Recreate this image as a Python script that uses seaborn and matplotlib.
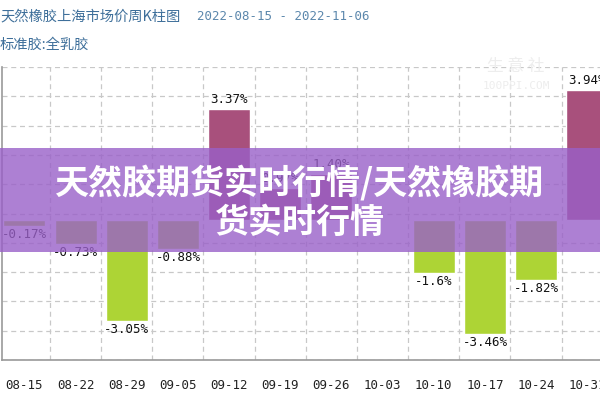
import matplotlib
matplotlib.use("Agg")
import matplotlib.pyplot as plt
import seaborn as sns
import numpy as np
import pandas as pd
from matplotlib.patches import Rectangle

weeks = ["08-15", "08-22", "08-29", "09-05", "09-12", "09-19",
         "09-26", "10-03", "10-10", "10-17", "10-24", "10-31"]
changes = [-0.17, -0.73, -3.05, -0.88, 3.37, 0.97,
           1.40, np.nan, -1.6, -3.46, -1.82, 3.94]
labels = ["-0.17%", "-0.73%", "-3.05%", "-0.88%", "3.37%", "0.97%",
          "1.40%", "", "-1.6%", "-3.46%", "-1.82%", "3.94%"]

header_title = "天然橡胶上海市场价周K柱图"
header_dates = "2022-08-15 - 2022-11-06"
header_sub = "标准胶:全乳胶"
overlay_line1 = "天然胶期货实时行情/天然橡胶期"
overlay_line2 = "货实时行情"

sns.set_theme(style="white")
plt.rcParams['font.family'] = ['Noto Sans CJK SC', 'DejaVu Sans']

up_color = "#A8507C"
down_color = "#ADD435"
colors = [up_color if (v == v and v > 0) else down_color for v in changes]

df = pd.DataFrame({"week": weeks, "change": changes})

fig = plt.figure(figsize=(6, 4), dpi=100)
ax = fig.add_axes([0.004, 0.10, 0.996, 0.7325])

sns.barplot(data=df, x="week", y="change", hue="week", palette=colors,
            legend=False, width=0.82, saturation=1, ax=ax, zorder=2)

ymin, ymax = -4.24, 4.64
ax.set_ylim(ymin, ymax)
ax.set_xlim(-0.43, 11.25)
ax.set_yticks(np.linspace(ymin, ymax, 11))
ax.set_yticklabels([])
ax.set_xticks(range(len(weeks)))
ax.set_xticklabels(weeks, family="DejaVu Sans Mono", fontsize=9, color="#222222")
ax.set_xticks(np.arange(0.5, len(weeks) - 0.5, 1), minor=True)
ax.tick_params(axis="x", which="both", length=0, pad=14)
ax.tick_params(axis="y", length=0)
ax.grid(False)
ax.grid(True, axis="y", which="major", linestyle=(0, (4, 3)), color="#C8C8C8", linewidth=0.9, zorder=0)
ax.grid(True, axis="x", which="minor", linestyle=(0, (4, 3)), color="#C8C8C8", linewidth=0.9, zorder=0)
ax.set_axisbelow(True)
ax.set_xlabel("")
ax.set_ylabel("")
for s in ["top", "right"]:
    ax.spines[s].set_visible(False)
for s in ["left", "bottom"]:
    ax.spines[s].set_color("#999999")
    ax.spines[s].set_linewidth(1.2)

for i, (v, lab) in enumerate(zip(changes, labels)):
    if v != v or not lab:
        continue
    if v >= 0:
        ax.text(i, v + 0.08, lab, ha="center", va="bottom",
                family="DejaVu Sans Mono", fontsize=9, color="#111111", zorder=3)
    else:
        ax.text(i, v - 0.06, lab, ha="center", va="top",
                family="DejaVu Sans Mono", fontsize=9, color="#111111", zorder=3)

# watermark
fig.text(0.86, 0.835, "生 意 社", fontsize=12, color="#EDEDED", ha="center", va="center")
fig.text(0.86, 0.785, "100PPI.COM", fontsize=8, color="#EDEDED", ha="center", va="center",
         family="DejaVu Sans Mono")

# header
fig.text(0.0, 0.958, header_title, fontsize=10.3, color="#3E6F9A", ha="left", va="center")
fig.text(0.328, 0.958, header_dates, fontsize=9, color="#5B87AC", ha="left", va="center",
         family="DejaVu Sans Mono")
fig.text(0.0, 0.888, header_sub, fontsize=10.3, color="#3E6F9A", ha="left", va="center")

# overlay band
fig.patches.append(Rectangle((0, 0.37), 1, 0.26, transform=fig.transFigure,
                             facecolor="#9960C8", alpha=0.8, edgecolor="none", zorder=5))
fig.text(0.5, 0.5425, overlay_line1, fontsize=24.5, fontweight="bold", color="white",
         ha="center", va="center", zorder=6)
fig.text(0.5, 0.445, overlay_line2, fontsize=24.5, fontweight="bold", color="white",
         ha="center", va="center", zorder=6)

fig.savefig("out.png", dpi=100)
